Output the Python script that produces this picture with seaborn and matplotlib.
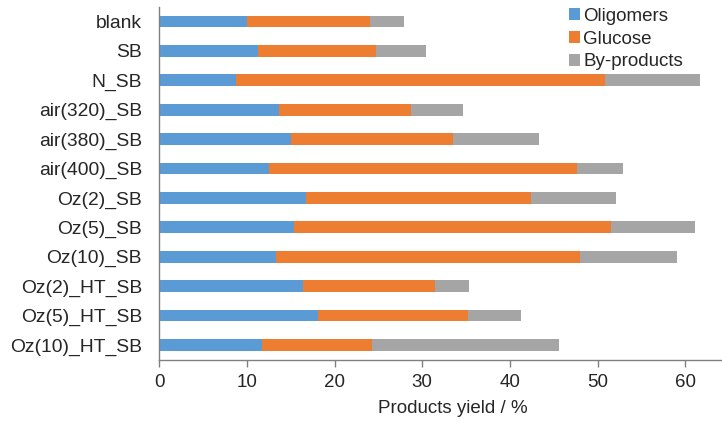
import numpy as np
import pandas as pd
import matplotlib
matplotlib.use("Agg")
import matplotlib.pyplot as plt
import seaborn as sns
from matplotlib.patches import Patch

categories = ["blank", "SB", "N_SB", "air(320)_SB", "air(380)_SB", "air(400)_SB",
              "Oz(2)_SB", "Oz(5)_SB", "Oz(10)_SB", "Oz(2)_HT_SB", "Oz(5)_HT_SB", "Oz(10)_HT_SB"]
oligomers = [10.0, 11.3, 8.8, 13.7, 15.0, 12.5, 16.7, 15.4, 13.3, 16.4, 18.1, 11.7]
glucose = [14.0, 13.4, 42.1, 15.0, 18.5, 35.2, 25.7, 36.1, 34.7, 15.1, 17.1, 12.6]
byproducts = [3.9, 5.7, 10.8, 6.0, 9.8, 5.2, 9.7, 9.6, 11.1, 3.8, 6.1, 21.3]
series_names = ["Oligomers", "Glucose", "By-products"]
colors = ["#5B9BD5", "#ED7D31", "#A5A5A5"]

df = pd.DataFrame({"cat": categories, "olig": oligomers, "glu": glucose, "by": byproducts})
df["c1"] = df["olig"]
df["c2"] = df["olig"] + df["glu"]
df["c3"] = df["c2"] + df["by"]

sns.set_style("white")
plt.rcParams["font.family"] = ["Liberation Sans", "DejaVu Sans"]

fig, ax = plt.subplots(figsize=(7.22, 4.26), dpi=100)
fig.subplots_adjust(left=0.2206, right=1.0, top=0.984, bottom=0.1556)

for col, color, name in zip(["c3", "c2", "c1"], colors[::-1], series_names[::-1]):
    sns.barplot(data=df, y="cat", x=col, orient="h", color=color, width=0.40,
                ax=ax, label=name, saturation=1, edgecolor="none")

ax.set_xlim(0, 64.2)
ax.set_xticks(np.arange(0, 61, 10))
ax.set_ylabel("")
ax.set_xlabel("Products yield / %", fontsize=13.5, labelpad=6.5, x=0.522)
ax.tick_params(axis="x", labelsize=13.5, length=5, width=1, color="#808080", direction="out",
               bottom=True, pad=5.5)
ax.tick_params(axis="y", labelsize=13.9, length=0, pad=12.5)
for s in ["top", "right"]:
    ax.spines[s].set_visible(False)
for s in ["left", "bottom"]:
    ax.spines[s].set_color("#808080")
    ax.spines[s].set_linewidth(1)

leg_handles = [Patch(facecolor=c, edgecolor="none") for c in colors]
ax.legend(leg_handles, series_names, loc="upper left", bbox_to_anchor=(569 / 722, 1 - 8 / 426),
          bbox_transform=fig.transFigure, frameon=False, borderpad=0, borderaxespad=0,
          fontsize=13.5, handlelength=0.6, handleheight=0.6, handletextpad=0.15, labelspacing=0.3)

fig.savefig("out.png", dpi=100)
